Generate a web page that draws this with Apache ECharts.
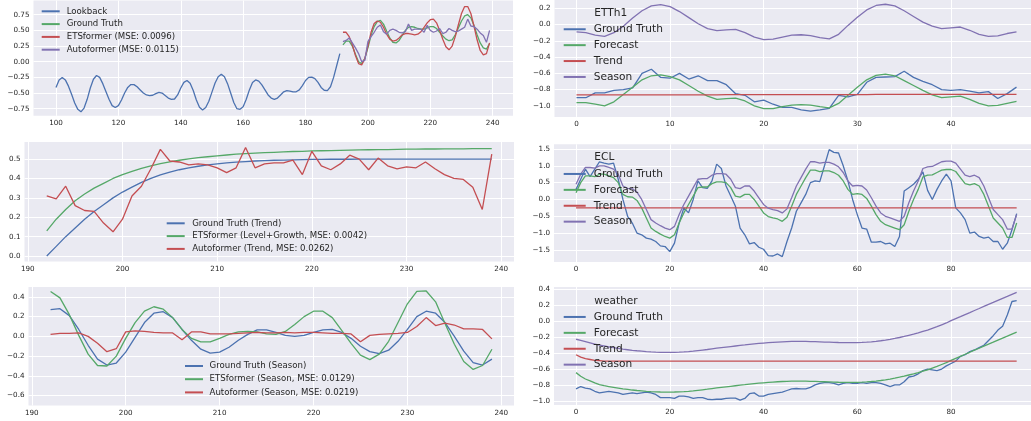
<!DOCTYPE html>
<html><head><meta charset="utf-8">
<script src="https://cdn.jsdelivr.net/npm/echarts@6/dist/echarts.min.js"></script>
<style>html,body{margin:0;padding:0;background:#fff;overflow:hidden;width:1031px;height:421px}
#c{position:absolute;left:0;top:-6px;width:1070px;height:440px}</style>
</head><body><div id="c"></div>
<script>
// ---------------- DATA ----------------
const lookbackStart = 100, horizonStart = 192;
const lookback = [-0.41,-0.29,-0.25,-0.29,-0.39,-0.52,-0.66,-0.76,-0.80,-0.74,-0.60,-0.42,-0.28,-0.22,-0.25,-0.35,-0.475,-0.60,-0.70,-0.73,
 -0.70,-0.61,-0.50,-0.41,-0.365,-0.365,-0.40,-0.45,-0.50,-0.53,-0.54,-0.535,-0.51,-0.49,-0.50,-0.54,-0.58,-0.60,-0.595,-0.53,
 -0.42,-0.33,-0.30,-0.345,-0.46,-0.61,-0.725,-0.77,-0.73,-0.63,-0.485,-0.34,-0.24,-0.20,-0.24,-0.35,-0.50,-0.65,-0.75,-0.76,
 -0.72,-0.60,-0.45,-0.33,-0.29,-0.31,-0.37,-0.45,-0.53,-0.58,-0.60,-0.58,-0.53,-0.48,-0.46,-0.47,-0.48,-0.48,-0.45,-0.38,
 -0.30,-0.25,-0.245,-0.27,-0.33,-0.41,-0.455,-0.46,-0.40,-0.25,-0.06,0.13];
const p1Truth = [0.27,0.33,0.33,0.25,0.12,0.00,-0.03,0.05,0.22,0.42,0.56,0.64,0.66,0.60,0.49,0.38,0.31,0.30,0.34,0.42,0.50,0.55,0.56,0.55,
 0.53,0.52,0.52,0.54,0.56,0.56,0.53,0.47,0.41,0.36,0.335,0.35,0.43,0.54,0.65,0.73,0.75,0.70,0.58,0.43,0.30,0.22,0.20,0.29];
const p1ETS = [0.47,0.47,0.40,0.27,0.10,-0.03,-0.05,0.05,0.25,0.47,0.61,0.65,0.63,0.55,0.44,0.36,0.33,0.34,0.38,0.43,0.45,0.45,0.44,0.43,
 0.44,0.48,0.55,0.62,0.67,0.68,0.62,0.50,0.36,0.24,0.19,0.25,0.40,0.59,0.77,0.88,0.88,0.77,0.57,0.35,0.18,0.11,0.13,0.30];
const p1Auto = [0.32,0.34,0.38,0.30,0.22,0.13,0.00,0.02,0.32,0.40,0.47,0.55,0.585,0.48,0.44,0.50,0.52,0.50,0.47,0.46,0.48,0.60,0.50,0.52,
 0.52,0.52,0.47,0.58,0.50,0.47,0.49,0.53,0.45,0.47,0.53,0.50,0.48,0.49,0.52,0.55,0.68,0.57,0.56,0.52,0.46,0.42,0.31,0.50];

const trendTruth = [0.00,0.05,0.10,0.145,0.19,0.23,0.265,0.30,0.33,0.355,0.38,0.40,0.418,0.433,0.445,0.455,0.463,0.47,0.475,0.48,
 0.484,0.487,0.49,0.492,0.494,0.495,0.496,0.497,0.498,0.498,0.499,0.499,0.499,0.5,0.5,0.5,0.5,0.5,0.5,0.5,0.5,0.5,0.5,0.5,0.5,0.5,0.5,0.5];
const trendETS = [0.13,0.19,0.24,0.285,0.32,0.35,0.375,0.40,0.42,0.437,0.452,0.465,0.476,0.486,0.494,0.501,0.507,0.512,0.517,0.521,
 0.525,0.528,0.531,0.533,0.535,0.537,0.539,0.540,0.542,0.543,0.544,0.545,0.546,0.547,0.548,0.549,0.549,0.550,0.551,0.551,
 0.552,0.552,0.553,0.553,0.553,0.554,0.554,0.554];
const trendAuto = [0.31,0.295,0.36,0.26,0.235,0.23,0.17,0.125,0.19,0.31,0.36,0.45,0.55,0.49,0.485,0.47,0.475,0.47,0.455,0.43,
 0.455,0.56,0.455,0.475,0.48,0.48,0.495,0.42,0.54,0.465,0.445,0.475,0.52,0.50,0.445,0.505,0.465,0.45,0.46,0.455,
 0.485,0.45,0.42,0.40,0.395,0.355,0.24,0.525];

const seasonTruth = [0.27,0.28,0.21,0.07,-0.09,-0.23,-0.29,-0.27,-0.16,-0.01,0.14,0.235,0.25,0.19,0.07,-0.04,-0.13,-0.17,-0.16,-0.11,
 -0.04,0.02,0.065,0.065,0.04,0.01,0.00,0.01,0.04,0.065,0.07,0.04,-0.02,-0.10,-0.155,-0.175,-0.14,-0.05,0.07,0.20,
 0.255,0.235,0.14,0.00,-0.15,-0.265,-0.29,-0.23];
const seasonETS = [0.455,0.39,0.22,0.01,-0.18,-0.295,-0.30,-0.20,-0.02,0.14,0.255,0.30,0.275,0.19,0.07,-0.02,-0.055,-0.055,-0.02,0.02,
 0.045,0.05,0.045,0.025,0.02,0.05,0.12,0.20,0.255,0.255,0.19,0.06,-0.07,-0.19,-0.235,-0.18,-0.05,0.14,0.33,0.455,
 0.46,0.35,0.13,-0.08,-0.255,-0.335,-0.295,-0.13];
const seasonAuto = [0.02,0.03,0.03,0.035,0.00,-0.07,-0.155,-0.125,0.045,0.055,0.05,0.04,0.035,0.035,-0.035,0.045,0.045,0.025,0.025,0.025,
 0.03,0.035,0.04,0.035,0.035,0.04,0.035,0.04,0.04,0.035,0.03,0.03,0.025,-0.055,0.01,0.02,0.025,0.03,0.04,0.10,
 0.19,0.11,0.135,0.115,0.075,0.075,0.07,-0.025];

const ettTruth = [-0.90,-0.90,-0.84,-0.84,-0.81,-0.80,-0.78,-0.60,-0.55,-0.65,-0.66,-0.60,-0.67,-0.63,-0.69,-0.69,-0.74,-0.85,-0.87,-0.95,
 -0.93,-0.98,-1.02,-1.02,-1.05,-1.065,-1.05,-1.03,-0.87,-0.89,-0.86,-0.71,-0.65,-0.645,-0.64,-0.575,-0.65,-0.70,-0.74,-0.80,
 -0.81,-0.80,-0.82,-0.84,-0.825,-0.91,-0.85,-0.77];
const ettForecast = [-0.96,-0.96,-0.98,-1.00,-0.95,-0.86,-0.77,-0.68,-0.63,-0.62,-0.64,-0.68,-0.75,-0.82,-0.88,-0.92,-0.91,-0.905,-0.94,-1.00,
 -1.035,-1.035,-1.01,-0.99,-0.985,-0.99,-1.01,-1.025,-0.97,-0.87,-0.77,-0.68,-0.625,-0.61,-0.63,-0.69,-0.75,-0.81,-0.865,-0.90,
 -0.89,-0.88,-0.92,-0.97,-1.00,-0.995,-0.97,-0.945];
const ettTrend = [-0.866,-0.866,-0.866,-0.866,-0.866,-0.866,-0.866,-0.866,-0.865,-0.865,-0.865,-0.865,-0.865,-0.865,-0.865,-0.865,
 -0.863,-0.863,-0.863,-0.863,-0.863,-0.863,-0.863,-0.863,-0.862,-0.862,-0.862,-0.862,-0.862,-0.862,-0.862,-0.862,
 -0.860,-0.860,-0.860,-0.860,-0.860,-0.860,-0.860,-0.860,-0.858,-0.858,-0.858,-0.858,-0.858,-0.858,-0.858,-0.858];
const ettSeason = [-0.09,-0.10,-0.13,-0.145,-0.10,-0.02,0.08,0.17,0.23,0.245,0.22,0.16,0.085,0.01,-0.05,-0.075,-0.065,-0.06,-0.10,-0.155,
 -0.185,-0.18,-0.155,-0.13,-0.125,-0.135,-0.16,-0.175,-0.12,-0.01,0.09,0.18,0.235,0.25,0.23,0.17,0.10,0.03,-0.02,-0.05,
 -0.04,-0.03,-0.07,-0.12,-0.145,-0.14,-0.11,-0.09];

const eclTruth = [0.30,0.60,0.90,0.68,0.90,1.12,1.08,1.05,1.08,0.60,0.00,-0.50,-0.70,-1.00,-1.05,-1.15,-1.18,-1.25,-1.38,-1.40,
 -1.55,-1.30,-0.70,-0.25,-0.40,0.00,0.55,0.35,0.33,0.55,1.05,0.92,0.40,0.10,-0.20,-0.85,-1.05,-1.32,-1.28,-1.42,
 -1.48,-1.67,-1.68,-1.62,-1.70,-1.25,-0.85,-0.35,-0.10,0.15,0.50,0.55,0.53,1.00,1.48,1.40,1.38,1.00,0.55,0.00,
 -0.45,-0.85,-0.88,-1.27,-1.27,-1.25,-1.32,-1.30,-1.40,-1.10,0.25,0.35,0.45,0.60,0.82,0.27,0.00,0.30,0.55,0.75,
 0.55,-0.25,-0.40,-0.60,-1.00,-0.97,-1.10,-1.15,-1.12,-1.25,-1.25,-1.48,-1.30,-0.90,-0.42];
const eclForecast = [0.20,0.50,0.70,0.70,0.68,0.75,0.75,0.70,0.65,0.50,0.15,0.08,0.07,-0.03,-0.25,-0.55,-0.85,-0.95,-1.03,-1.10,
 -1.15,-1.05,-0.70,-0.40,-0.15,0.10,0.35,0.37,0.37,0.47,0.52,0.52,0.50,0.35,0.10,0.07,0.15,0.15,0.00,-0.20,
 -0.40,-0.51,-0.55,-0.58,-0.65,-0.53,-0.20,0.15,0.40,0.65,0.87,0.87,0.83,0.85,0.85,0.80,0.72,0.55,0.30,0.15,
 0.17,0.15,0.03,-0.20,-0.45,-0.65,-0.75,-0.80,-0.85,-0.90,-0.75,-0.35,0.00,0.30,0.67,0.72,0.73,0.80,0.87,0.89,
 0.89,0.83,0.65,0.47,0.43,0.47,0.40,0.15,-0.20,-0.55,-0.70,-0.85,-1.13,-1.13,-0.70];
const eclTrend = new Array(95).fill(-0.25);
const eclSeason = [0.45,0.75,0.95,0.95,0.93,1.00,1.00,0.95,0.90,0.75,0.40,0.33,0.32,0.22,0.00,-0.30,-0.60,-0.70,-0.78,-0.85,
 -0.90,-0.80,-0.45,-0.15,0.10,0.35,0.60,0.62,0.62,0.72,0.77,0.77,0.75,0.60,0.35,0.32,0.40,0.40,0.25,0.05,
 -0.15,-0.26,-0.30,-0.33,-0.40,-0.28,0.05,0.40,0.65,0.90,1.12,1.12,1.08,1.10,1.10,1.05,0.97,0.80,0.55,0.40,
 0.42,0.40,0.28,0.05,-0.20,-0.40,-0.50,-0.55,-0.60,-0.65,-0.50,-0.10,0.25,0.55,0.92,0.97,0.98,1.05,1.12,1.14,
 1.14,1.08,0.90,0.72,0.68,0.72,0.65,0.40,0.05,-0.30,-0.45,-0.60,-0.88,-0.88,-0.45];

const wthTruth = [-0.85,-0.82,-0.84,-0.85,-0.88,-0.90,-0.89,-0.88,-0.89,-0.90,-0.92,-0.91,-0.90,-0.91,-0.90,-0.89,-0.90,-0.92,-0.96,-0.96,
 -0.96,-0.97,-0.94,-0.94,-0.95,-0.97,-0.96,-0.96,-0.98,-0.985,-0.98,-0.98,-0.97,-0.965,-0.965,-0.99,-0.97,-0.91,-0.90,-0.94,
 -0.94,-0.92,-0.91,-0.90,-0.89,-0.87,-0.85,-0.845,-0.85,-0.85,-0.83,-0.80,-0.78,-0.77,-0.77,-0.78,-0.80,-0.78,-0.77,-0.78,
 -0.78,-0.77,-0.78,-0.77,-0.77,-0.78,-0.80,-0.82,-0.80,-0.80,-0.76,-0.70,-0.69,-0.66,-0.62,-0.60,-0.61,-0.62,-0.60,-0.56,
 -0.53,-0.50,-0.44,-0.42,-0.38,-0.36,-0.33,-0.30,-0.24,-0.18,-0.11,-0.06,0.08,0.25,0.26];
const wthForecast = [-0.645,-0.69,-0.725,-0.75,-0.775,-0.795,-0.81,-0.82,-0.83,-0.84,-0.85,-0.857,-0.864,-0.87,-0.875,-0.88,-0.884,-0.887,-0.889,-0.89,
 -0.89,-0.889,-0.887,-0.884,-0.88,-0.875,-0.868,-0.861,-0.854,-0.846,-0.838,-0.831,-0.824,-0.817,-0.81,-0.803,-0.797,-0.79,-0.784,-0.778,
 -0.773,-0.768,-0.764,-0.76,-0.757,-0.755,-0.753,-0.752,-0.752,-0.753,-0.754,-0.756,-0.758,-0.76,-0.762,-0.764,-0.766,-0.767,-0.768,-0.768,
 -0.767,-0.765,-0.762,-0.757,-0.751,-0.744,-0.736,-0.726,-0.715,-0.703,-0.69,-0.675,-0.66,-0.644,-0.627,-0.61,-0.588,-0.566,-0.543,-0.52,
 -0.49,-0.465,-0.44,-0.414,-0.389,-0.363,-0.338,-0.312,-0.287,-0.262,-0.236,-0.211,-0.186,-0.16,-0.135];
const wthTrend = [-0.42,-0.45,-0.47,-0.48,-0.49,-0.495].concat(new Array(89).fill(-0.50));
const wthSeason = [-0.225,-0.24,-0.255,-0.27,-0.285,-0.30,-0.31,-0.32,-0.33,-0.34,-0.35,-0.357,-0.364,-0.37,-0.375,-0.38,-0.384,-0.387,-0.389,-0.39,
 -0.39,-0.389,-0.387,-0.384,-0.38,-0.375,-0.368,-0.361,-0.354,-0.346,-0.338,-0.331,-0.324,-0.317,-0.31,-0.303,-0.297,-0.29,-0.284,-0.278,
 -0.273,-0.268,-0.264,-0.26,-0.257,-0.255,-0.253,-0.252,-0.252,-0.253,-0.254,-0.256,-0.258,-0.26,-0.262,-0.264,-0.266,-0.267,-0.268,-0.268,
 -0.267,-0.265,-0.262,-0.257,-0.251,-0.244,-0.236,-0.226,-0.215,-0.203,-0.19,-0.175,-0.16,-0.144,-0.127,-0.11,-0.088,-0.066,-0.043,-0.02,
 0.01,0.035,0.06,0.086,0.111,0.137,0.162,0.188,0.213,0.238,0.264,0.289,0.314,0.34,0.365];

// tick labels
const p1XTicks = [100,120,140,160,180,200,220,240];
const p1YTicks = [-0.75,-0.5,-0.25,0,0.25,0.5,0.75];
const p2XTicks = [0,10,20,30,40];
const p2YTicks = [-1.0,-0.8,-0.6,-0.4,-0.2,0.0,0.2];
const p3XTicks = [190,200,210,220,230,240];
const p3YTicks = [0,0.1,0.2,0.3,0.4,0.5];
const p4XTicks = [0,20,40,60,80];
const p4YTicks = [-1.5,-1.0,-0.5,0,0.5,1.0,1.5];
const p5XTicks = [190,200,210,220,230,240];
const p5YTicks = [-0.6,-0.4,-0.2,0,0.2,0.4];
const p6XTicks = [0,20,40,60,80];
const p6YTicks = [-1.0,-0.8,-0.6,-0.4,-0.2,0.0,0.2,0.4];

// ---------------- STYLE / LAYOUT ----------------
const C = {blue:'#4C72B0', green:'#55A868', red:'#C44E52', purple:'#8172B2'};
const FONT = 'DejaVu Sans', TXT = '#262626';
const OY = 6; // container is shifted up by this many px

// [left, right, top, bottom] px in page coords, xlim, ylim
const panels = [
  {box:[33.5,513,0.5,115.8],  xl:[92.79,246.51], yl:[-0.863,0.977], xt:p1XTicks, yt:p1YTicks, yd:2},
  {box:[554.5,1038.5,-0.7,116.9], xl:[-2.35,49.35], yl:[-1.136,0.311], xt:p2XTicks, yt:p2YTicks, yd:1},
  {box:[24.5,514,142,261.5], xl:[189.65,241.35], yl:[-0.028,0.588], xt:p3XTicks, yt:p3YTicks, yd:1},
  {box:[554,1038.7,144.3,262], xl:[-4.7,98.7], yl:[-1.859,1.639], xt:p4XTicks, yt:p4YTicks, yd:1},
  {box:[28.5,514,287,405.5], xl:[189.65,241.35], yl:[-0.70,0.50], xt:p5XTicks, yt:p5YTicks, yd:1},
  {box:[554,1038.7,287,405], xl:[-4.7,98.7], yl:[-1.0525,0.4325], xt:p6XTicks, yt:p6YTicks, yd:1},
];
const fmt = (v, d) => (v < -1e-9 ? '\u2212' : '') + Math.abs(v).toFixed(d);

const grids = [], xAxes = [], yAxes = [];
panels.forEach((p, i) => {
  const [l, r, t, b] = p.box;
  grids.push({left:l, top:t+OY, width:r-l, height:b-t, show:true, backgroundColor:'#EAEAF2', borderWidth:0, containLabel:false});
  const lbl = {fontSize:7.2, color:TXT, fontFamily:FONT};
  xAxes.push({type:'value', gridIndex:i, min:p.xl[0], max:p.xl[1],
    axisLine:{show:false}, axisTick:{show:false, customValues:p.xt},
    axisLabel:Object.assign({customValues:p.xt, margin:4, formatter:v=>fmt(v,0)}, lbl),
    splitLine:{show:true, lineStyle:{color:'#ffffff', width:1}}});
  yAxes.push({type:'value', gridIndex:i, min:p.yl[0], max:p.yl[1],
    axisLine:{show:false}, axisTick:{show:false, customValues:p.yt},
    axisLabel:Object.assign({customValues:p.yt, margin:4, formatter:v=>fmt(v,p.yd)}, lbl),
    splitLine:{show:true, lineStyle:{color:'#ffffff', width:1}}});
});

const series = [];
function addLine(gi, name, xs0, ys, color) {
  series.push({type:'line', name, xAxisIndex:gi, yAxisIndex:gi, data: ys.map((y, k) => [xs0 + k, y]),
    symbol:'none', showSymbol:false, color, itemStyle:{color}, lineStyle:{width:1.3, color}, animation:false});
}
addLine(0, 'p1|Lookback', lookbackStart, lookback, C.blue);
addLine(0, 'p1|Ground Truth', horizonStart, p1Truth, C.green);
addLine(0, 'p1|ETSformer (MSE: 0.0096)', horizonStart, p1ETS, C.red);
addLine(0, 'p1|Autoformer (MSE: 0.0115)', horizonStart, p1Auto, C.purple);

addLine(1, 'p2|Ground Truth', 0, ettTruth, C.blue);
addLine(1, 'p2|Forecast', 0, ettForecast, C.green);
addLine(1, 'p2|Trend', 0, ettTrend, C.red);
addLine(1, 'p2|Season', 0, ettSeason, C.purple);

addLine(2, 'p3|Ground Truth (Trend)', horizonStart, trendTruth, C.blue);
addLine(2, 'p3|ETSformer (Level+Growth, MSE: 0.0042)', horizonStart, trendETS, C.green);
addLine(2, 'p3|Autoformer (Trend, MSE: 0.0262)', horizonStart, trendAuto, C.red);

addLine(3, 'p4|Ground Truth', 0, eclTruth, C.blue);
addLine(3, 'p4|Forecast', 0, eclForecast, C.green);
addLine(3, 'p4|Trend', 0, eclTrend, C.red);
addLine(3, 'p4|Season', 0, eclSeason, C.purple);

addLine(4, 'p5|Ground Truth (Season)', horizonStart, seasonTruth, C.blue);
addLine(4, 'p5|ETSformer (Season, MSE: 0.0129)', horizonStart, seasonETS, C.green);
addLine(4, 'p5|Autoformer (Season, MSE: 0.0219)', horizonStart, seasonAuto, C.red);

addLine(5, 'p6|Ground Truth', 0, wthTruth, C.blue);
addLine(5, 'p6|Forecast', 0, wthForecast, C.green);
addLine(5, 'p6|Trend', 0, wthTrend, C.red);
addLine(5, 'p6|Season', 0, wthSeason, C.purple);

function legend(prefix, left, top, lh, fs, iw, gap) {
  return {data: series.filter(s => s.name.startsWith(prefix + '|')).map(s => s.name),
    orient:'vertical', left, top: top + OY, padding:0, itemGap:0, itemWidth:iw, itemHeight:2, icon:'rect',
    selectedMode:false, formatter: n => n.split('|')[1],
    textStyle:{fontSize:fs, lineHeight:lh, color:TXT, fontFamily:FONT, padding:[0,0,0,gap]}};
}
const legends = [
  legend('p1', 41.7, 11.3-6.4, 12.8, 8.6, 18, 2),
  legend('p2', 563.7, 29.3-8, 15.9, 10.6, 22, 3),
  legend('p3', 166.7, 223.3-6.4, 12.8, 8.6, 18, 2.5),
  legend('p4', 563.7, 174-8, 15.9, 10.6, 22, 3),
  legend('p5', 185, 366-6.6, 13.2, 8.6, 18, 1.5),
  legend('p6', 563.7, 317-8, 15.9, 10.6, 22, 3),
];
const ttl = (text, left, cy) => ({text, left, top: cy - 8 + OY, padding:0,
  textStyle:{fontSize:10.6, fontWeight:'normal', color:TXT, fontFamily:FONT, lineHeight:16}});
const titles = [ttl('ETTh1', 594.3, 13.3), ttl('ECL', 594.3, 157.7), ttl('weather', 594.3, 301)];

const chart = echarts.init(document.getElementById('c'), null, {renderer:'canvas'});
chart.setOption({animation:false, backgroundColor:'#ffffff', title:titles, legend:legends,
  grid:grids, xAxis:xAxes, yAxis:yAxes, series});
</script></body></html>
